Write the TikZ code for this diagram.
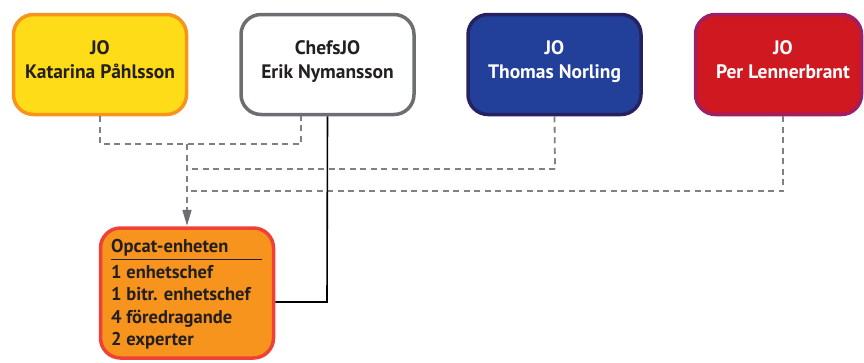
\documentclass[tikz,border=0pt]{standalone}
\usepackage{fontspec}
\setmainfont{PT Sans}
\usetikzlibrary{arrows.meta}
\definecolor{yel}{HTML}{FEDC17}
\definecolor{yelb}{HTML}{F7941D}
\definecolor{grb}{HTML}{6D6E71}
\definecolor{blu}{HTML}{22409A}
\definecolor{blub}{HTML}{262262}
\definecolor{redf}{HTML}{CF1820}
\definecolor{redb}{HTML}{9E1F63}
\definecolor{orf}{HTML}{F7941D}
\definecolor{orb}{HTML}{EF4136}
\definecolor{txt}{HTML}{231F20}
\definecolor{dashc}{HTML}{808080}
\tikzset{
  topbox/.style={draw, line width=3.5pt, rounded corners=20pt, minimum width=173pt, minimum height=100pt, inner sep=0pt},
  toptext/.style={anchor=base, font=\fontsize{19.5}{24}\selectfont\bfseries, inner sep=0pt},
  dashline/.style={draw=dashc, line width=1.8pt, dash pattern=on 6pt off 4.5pt},
  solidline/.style={draw=black, line width=1.6pt},
  listtext/.style={anchor=base west, font=\fontsize{18.5}{22}\selectfont\bfseries, text=txt, inner sep=0pt}
}
\begin{document}
\begin{tikzpicture}[x=1pt,y=-1pt]
\useasboundingbox (0,0) rectangle (864,362);
% boxes
\node[topbox, fill=yel, draw=yelb] (jo1) at (100,64.5) {};
\node[toptext, text=txt] (t1a) at (100,54) {JO};
\node[toptext, text=txt] (t1b) at (100,78) {Katarina Påhlsson};
\node[topbox, fill=white, draw=grb] (chef) at (327.5,64.5) {};
\node[toptext, text=txt] (t2a) at (327.5,54) {ChefsJO};
\node[toptext, text=txt] (t2b) at (327.5,78) {Erik Nymansson};
\node[topbox, fill=blu, draw=blub] (jo3) at (554.5,64.5) {};
\node[toptext, text=white] (t3a) at (554.5,54) {JO};
\node[toptext, text=white] (t3b) at (554.5,78) {Thomas Norling};
\node[topbox, fill=redf, draw=redb, minimum width=166pt] (jo4) at (778.5,64.5) {};
\node[toptext, text=white] (t4a) at (783,54) {JO};
\node[toptext, text=white] (t4b) at (783,78) {Per Lennerbrant};
\node[draw=orb, fill=orf, line width=3.5pt, rounded corners=20pt, minimum width=173pt, minimum height=130pt, inner sep=0pt] (op) at (187,293) {};
\node[listtext] (h) at (111,252) {Opcat-enheten};
\draw[txt, line width=1pt] (111,259) -- (262,259);
\node[listtext] (l1) at (111,278) {1 enhetschef};
\node[listtext] (l2) at (111,300.5) {1 bitr. enhetschef};
\node[listtext] (l3) at (111,323) {4 föredragande};
\node[listtext] (l4) at (111,345.5) {2 experter};
% coordinates
\coordinate (a1) at (100,144);
\coordinate (a2) at (301,144);
\coordinate (a3) at (301,116);
\coordinate (j) at (187,144);
\coordinate (b1) at (187,169);
\coordinate (b2) at (555,169);
\coordinate (c1) at (187,191);
\coordinate (c2) at (783,191);
\coordinate (c3) at (783,116);
\coordinate (s1) at (327,302);
% dashed connectors
\draw[dashline] (jo1.south) -- (a1) -- (a2) -- (a3);
\draw[dashline] (b2) -- (b1);
\draw[dashline] (jo3.south) -- (b2);
\draw[dashline] (c3) -- (c2) -- (c1);
\draw[dashline, -{Triangle[width=9pt,length=16pt,fill=grb,color=grb]}, shorten >=0.5pt] (j) -- (op.north);
% solid connector
\draw[solidline] (chef.south) -- (s1) -- (op.east |- s1);
\end{tikzpicture}
\end{document}
